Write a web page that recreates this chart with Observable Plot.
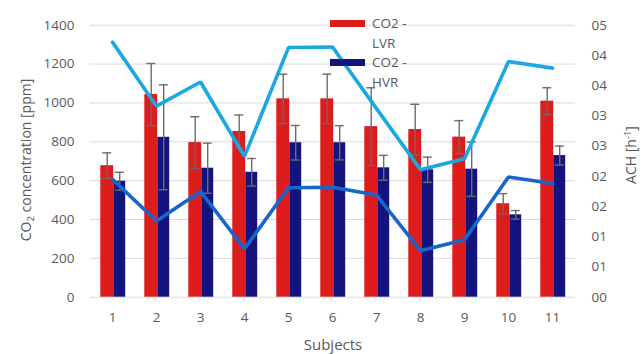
<!DOCTYPE html>
<html>
<head>
<meta charset="utf-8">
<script src="https://cdn.jsdelivr.net/npm/d3@7"></script>
<script src="https://cdn.jsdelivr.net/npm/@observablehq/plot@0.6"></script>
<style>
  body { margin: 0; background: #fff; }
  #chart { position: relative; width: 644px; height: 354px; font-family: "Open Sans", sans-serif; color: #595959; }
  #chart svg { position: absolute; left: 0; top: 0; }
  .key { position: absolute; font-size: 13.5px; line-height: 19.5px; color: #595959; }
  .key .sw { position: absolute; left: -42px; top: 6px; width: 35px; height: 7px; }
</style>
</head>
<body>
<div id="chart"></div>
<script>
// Subjects on the x axis
const subjects = ["1", "2", "3", "4", "5", "6", "7", "8", "9", "10", "11"];

// Mean CO2 concentration [ppm] and its standard deviation, low / high ventilation rate
const co2LVR    = [677, 1043, 796, 853, 1021, 1021, 878, 863, 824, 481, 1009];
const co2LVRsd  = [66, 160, 133, 85, 127, 127, 200, 130, 85, 52, 69];
const co2HVR    = [597, 823, 664, 643, 795, 795, 666, 656, 659, 424, 729];
const co2HVRsd  = [46, 270, 129, 71, 89, 88, 64, 65, 140, 22, 49];

// Air changes per hour [h-1]
const achHVR = [4.22, 3.16, 3.56, 2.33, 4.13, 4.14, 3.12, 2.11, 2.29, 3.90, 3.79];
const achLVR = [1.95, 1.26, 1.75, 0.80, 1.81, 1.82, 1.69, 0.77, 0.95, 1.99, 1.88];

// Axis ticks
const co2Ticks = [0, 200, 400, 600, 800, 1000, 1200, 1400];
const achTicks = [0, 0.5, 1, 1.5, 2, 2.5, 3, 3.5, 4, 4.5];
const achTickLabels = ["00", "01", "01", "02", "02", "03", "03", "04", "04", "05"];

const legendLabels = ["CO2 -\nLVR", "CO2 -\nHVR"];

const RED = "#dd1c1c", NAVY = "#14147e", SKY = "#1aa8e2", BLUE = "#1766cc";

// the ACH axis (0–4.5) shares the plot height with the CO2 axis (0–1400)
const k = co2Ticks[co2Ticks.length - 1] / achTicks[achTicks.length - 1];

const rows = subjects.map((s, i) => ({
  s,
  lvr: co2LVR[i], lvrSd: co2LVRsd[i],
  hvr: co2HVR[i], hvrSd: co2HVRsd[i],
  achH: achHVR[i] * k, achL: achLVR[i] * k
}));

const errStyle = {stroke: "#6b6b6b", strokeWidth: 1.4};

const chart = Plot.plot({
  width: 644,
  height: 354,
  marginLeft: 89.5,
  marginRight: 69,
  marginTop: 24.7,
  marginBottom: 57.3,
  style: {fontFamily: '"Open Sans", sans-serif', fontSize: "13.5px", color: "#595959", background: "#fff"},
  x: {type: "band", domain: subjects, padding: 0, label: null},
  y: {domain: [0, 1400], label: null},
  marks: [
    Plot.gridY(co2Ticks, {stroke: "#d9d9d9", strokeOpacity: 1, strokeWidth: 1}),
    Plot.axisY(co2Ticks, {anchor: "left", tickSize: 0, tickPadding: 15.5, label: null, fill: "#595959", tickFormat: d => String(d)}),
    Plot.axisY(achTicks.map(v => v * k), {
      anchor: "right", tickSize: 0, tickPadding: 16, label: null, fill: "#595959",
      tickFormat: (d, i) => achTickLabels[i]
    }),
    Plot.axisX({tickSize: 0, tickPadding: 15, label: null, fill: "#595959"}),

    // grouped bars
    Plot.barY(rows, {x: "s", y: "lvr", fill: RED, insetLeft: 10.3, insetRight: 20.8}),
    Plot.barY(rows, {x: "s", y: "hvr", fill: NAVY, insetLeft: 23.3, insetRight: 8.8}),

    // error bars
    Plot.ruleX(rows, {x: "s", y1: d => d.lvr - d.lvrSd, y2: d => d.lvr + d.lvrSd, dx: -5.3, ...errStyle}),
    Plot.tickY(rows, {x: "s", y: d => d.lvr + d.lvrSd, insetLeft: 12.3, insetRight: 22.8, ...errStyle}),
    Plot.tickY(rows, {x: "s", y: d => d.lvr - d.lvrSd, insetLeft: 12.3, insetRight: 22.8, ...errStyle}),
    Plot.ruleX(rows, {x: "s", y1: d => d.hvr - d.hvrSd, y2: d => d.hvr + d.hvrSd, dx: 7.2, ...errStyle}),
    Plot.tickY(rows, {x: "s", y: d => d.hvr + d.hvrSd, insetLeft: 24.8, insetRight: 10.3, ...errStyle}),
    Plot.tickY(rows, {x: "s", y: d => d.hvr - d.hvrSd, insetLeft: 24.8, insetRight: 10.3, ...errStyle}),

    // ACH lines on the secondary axis
    Plot.line(rows, {x: "s", y: "achH", stroke: SKY, strokeWidth: 3.6, strokeLinejoin: "miter"}),
    Plot.line(rows, {x: "s", y: "achL", stroke: BLUE, strokeWidth: 3.6, strokeLinejoin: "miter"})
  ]
});

const host = document.getElementById("chart");
host.appendChild(chart);

// axis titles (with sub/superscripts)
const svg = d3.select(chart);
const yTitle = svg.append("text")
  .attr("transform", "translate(30.5,160) rotate(-90)")
  .attr("text-anchor", "middle")
  .attr("fill", "#595959")
  .style("font-size", "14px");
yTitle.append("tspan").text("CO");
yTitle.append("tspan").attr("font-size", "9.5px").attr("dy", "3").text("2");
yTitle.append("tspan").attr("dy", "-3").text(" concentration [ppm]");

const y2Title = svg.append("text")
  .attr("transform", "translate(636,155) rotate(-90)")
  .attr("text-anchor", "middle")
  .attr("fill", "#595959")
  .style("font-size", "14px");
y2Title.append("tspan").text("ACH [h");
y2Title.append("tspan").attr("font-size", "9.5px").attr("dy", "-5").text("-1");
y2Title.append("tspan").attr("dy", "5").text("]");

svg.append("text")
  .attr("x", 333).attr("y", 350)
  .attr("text-anchor", "middle")
  .attr("fill", "#595959")
  .style("font-size", "15px")
  .text("Subjects");

// legend
[[RED, 14], [NAVY, 53]].forEach(([color, top], i) => {
  const item = document.createElement("div");
  item.className = "key";
  item.style.left = "372px";
  item.style.top = top + "px";
  item.style.whiteSpace = "pre";
  item.textContent = legendLabels[i];
  const sw = document.createElement("span");
  sw.className = "sw";
  sw.style.background = color;
  item.appendChild(sw);
  host.appendChild(item);
});
</script>
</body>
</html>
